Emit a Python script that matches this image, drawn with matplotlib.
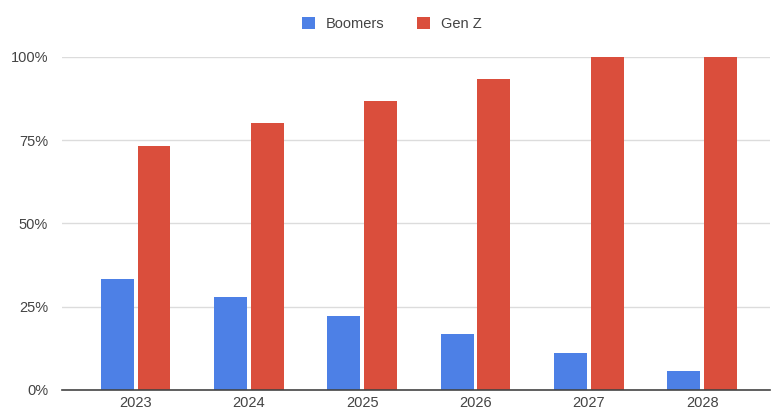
import matplotlib
matplotlib.use("Agg")
import matplotlib.pyplot as plt
import numpy as np
from matplotlib.ticker import FuncFormatter

years = ["2023", "2024", "2025", "2026", "2027", "2028"]
boomers = [33.3, 27.8, 22.2, 16.7, 11.1, 5.6]
genz = [73.3, 80.0, 86.7, 93.3, 100.0, 100.0]
yticks = [0, 25, 50, 75, 100]

blue = "#4D80E6"
red = "#DA4E3C"

plt.rcParams['font.family'] = ['Liberation Sans', 'DejaVu Sans']
fig = plt.figure(figsize=(7.74, 4.12), dpi=100)
ax = fig.add_axes([0.080, 0.0534, 0.915, 0.8086])

x = np.arange(len(years))
w = 0.29
gap = 0.035
ax.bar(x - (w + gap) / 2, boomers, width=w, color=blue, label="Boomers", zorder=3)
ax.bar(x + (w + gap) / 2, genz, width=w, color=red, label="Gen Z", zorder=3)

ax.set_xlim(-0.65, 5.6)
ax.set_ylim(0, 100)
ax.set_yticks(yticks)
ax.yaxis.set_major_formatter(FuncFormatter(lambda v, p: f"{int(v)}%"))
ax.set_xticks(x)
ax.set_xticklabels(years)
ax.grid(axis='y', color='#dcdcdc', linewidth=1, zorder=0)
for s in ['top', 'right', 'left']:
    ax.spines[s].set_visible(False)
ax.spines['bottom'].set_color('#444444')
ax.spines['bottom'].set_linewidth(1.2)
ax.spines['bottom'].set_zorder(4)
ax.tick_params(axis='both', length=0, labelsize=10.5, colors='#444444')
ax.tick_params(axis='y', pad=10)
ax.tick_params(axis='x', pad=4)

fig.legend(loc='upper center', bbox_to_anchor=(0.506, 0.99), ncol=2, frameon=False,
           fontsize=10.5, handlelength=0.9, handleheight=0.9, columnspacing=2.2,
           handletextpad=0.75, labelcolor='#444444')

fig.savefig("out.png", dpi=100)
